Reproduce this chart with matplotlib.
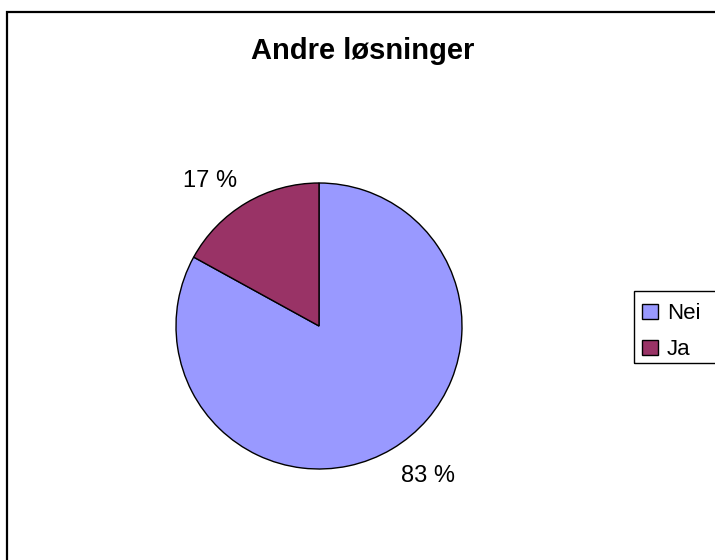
import numpy as np
import matplotlib
matplotlib.use("Agg")
from matplotlib import pyplot as plt
from matplotlib.patches import Rectangle

# data
labels = ["Nei", "Ja"]
values = [83, 17]
colors = ["#9999FF", "#993366"]
title = "Andre løsninger"

plt.rcParams['font.family'] = ['Liberation Sans', 'DejaVu Sans']

fig = plt.figure(figsize=(7.15, 5.6), dpi=100)
ax = fig.add_axes([0, 0, 1, 1])

# outer chart border (right/bottom run off the picture)
ax.add_patch(Rectangle((7, -10), 730, 558, fill=False, edgecolor='black',
                       linewidth=1.6, zorder=0))

cx, cy, r = 319, 234, 143
wedges, _ = ax.pie(values, colors=colors, startangle=90, counterclock=False,
                   center=(cx, cy), radius=r, frame=True,
                   wedgeprops=dict(edgecolor='black', linewidth=1.0))
ax.set_xlim(0, 715)
ax.set_ylim(0, 560)
ax.set_aspect('equal')
ax.axis('off')

# percentage labels just outside the slices
for w, v in zip(wedges, values):
    ang = np.deg2rad((w.theta1 + w.theta2) / 2)
    c, s = np.cos(ang), np.sin(ang)
    d = 1.13 * r
    ax.text(cx + d * c, cy + d * s, "%d %%" % v,
            ha='left' if c > 0 else 'right',
            va='top' if s < 0 else 'baseline', fontsize=17)

ax.text(363, 509, title, ha='center', va='center', fontsize=21, fontweight='bold')

# legend box runs off the right edge like in the original
ax.add_patch(Rectangle((634, 197), 120, 72, fill=False, edgecolor='black',
                       linewidth=1.0, clip_on=False))
leg = ax.legend(wedges, labels, loc='upper left', bbox_to_anchor=(630 / 715, 1 - 291 / 560),
                frameon=False, fontsize=16,
                handlelength=0.7, handleheight=0.7, handletextpad=0.4,
                borderpad=0.55, labelspacing=0.68, borderaxespad=0)

fig.savefig("out.png", dpi=100)
